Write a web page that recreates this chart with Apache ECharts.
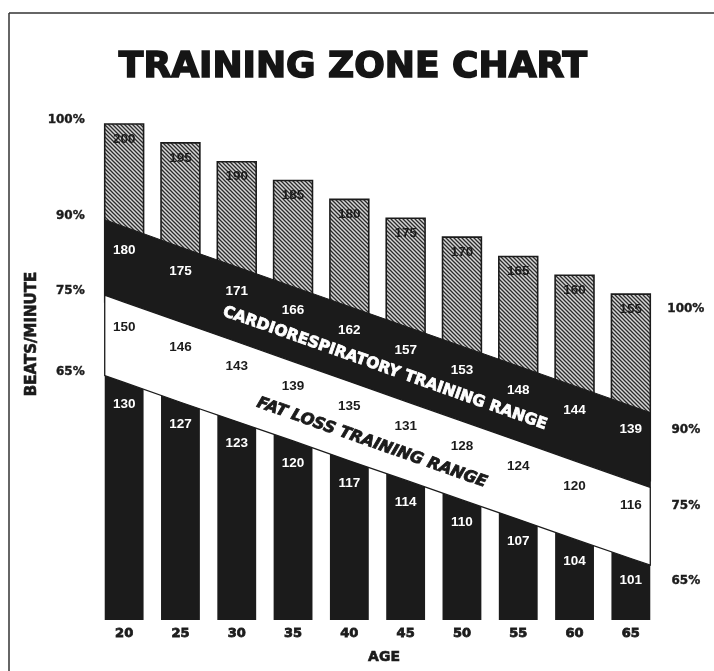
<!DOCTYPE html>
<html><head><meta charset="utf-8">
<script src="https://cdn.jsdelivr.net/npm/echarts@6/dist/echarts.min.js"></script>
<style>html,body{margin:0;padding:0;background:#fff}#c{width:714px;height:671px}</style>
</head><body><div id="c"></div>
<script>
// ---- data ----
const ages  = ['20','25','30','35','40','45','50','55','60','65'];
const maxHR = [200,195,190,185,180,175,170,165,160,155];   // 100%
const hr90  = [180,175,171,166,162,157,153,148,144,139];   // 90%
const hr75  = [150,146,143,139,135,131,128,124,120,116];   // 75%
const hr65  = [130,127,123,120,117,114,110,107,104,101];   // 65%
// heights of the zone edges on the chart's own (unlabelled) drawing scale: 0 = baseline, 100 = tallest bar top
const top100 = [100,96.2,92.4,88.6,84.8,81.0,77.2,73.3,69.5,65.7];
const edge90 = [79.3,75.2,71.2,67.2,63.2,59.2,55.2,51.2,47.2,43.2];
const edge75 = [64.1,60.1,56.1,52.1,48.1,44.1,40.1,36.1,32.1,28.1];
const edge65 = [47.9,43.9,40.0,36.1,32.1,28.2,24.2,20.3,16.3,12.4];
const pctLabels = ['100%','90%','75%','65%'];
const titleText = 'TRAINING ZONE CHART';
const yTitle = 'BEATS/MINUTE';
const xTitle = 'AGE';
const band1Text = 'CARDIORESPIRATORY TRAINING RANGE';
const band2Text = 'FAT LOSS TRAINING RANGE';

// ---- styling ----
const BLACK = '#1b1b1b';
const HEAVY = 'DejaVu Sans';
const PLAIN = 'Liberation Sans, Arial, sans-serif';
const BAR_FRAC = 0.69;

function hatchCanvas(){
  const c = document.createElement('canvas'); c.width = 4; c.height = 4;
  const g = c.getContext('2d');
  g.fillStyle = '#d6d6d6'; g.fillRect(0,0,4,4);
  g.strokeStyle = '#2b2b2b'; g.lineWidth = 1.3;
  g.beginPath();
  g.moveTo(-1,-1); g.lineTo(5,5);
  g.moveTo(-1,3); g.lineTo(1,5);
  g.moveTo(3,-1); g.lineTo(5,1);
  g.stroke();
  return c;
}
const pattern = {image: hatchCanvas(), repeat: 'repeat'};

const items = ages.map((a,i)=>[i, top100[i], edge90[i], edge75[i], edge65[i], maxHR[i], hr90[i], hr75[i], hr65[i]]);

function geom(api){ const w = api.size([1,0])[0]; return {w, bw: w*BAR_FRAC}; }
function edgeVal(arr, side){
  const n = arr.length, h = BAR_FRAC/2;
  if (side < 0) return arr[0] - (arr[1]-arr[0])*h;
  return arr[n-1] + (arr[n-1]-arr[n-2])*h;
}
function valAt(arr, t){
  const k = Math.min(Math.floor(t), arr.length-2), f = t-k;
  return arr[k] + (arr[k+1]-arr[k])*f;
}

function renderBars(params, api){
  const i = api.value(0);
  const {bw} = geom(api);
  const c = api.coord([i, 0]);
  const yTop = api.coord([i, api.value(1)])[1];
  const y75 = api.coord([i, api.value(3)])[1];
  return {type:'group', children:[
    {type:'rect', shape:{x:c[0]-bw/2, y:y75, width:bw, height:c[1]-y75}, style:{fill:BLACK}},
    {type:'rect', shape:{x:c[0]-bw/2, y:yTop, width:bw, height:y75-yTop}, style:{fill:pattern, stroke:BLACK, lineWidth:1.6}}
  ]};
}

function bandPoints(api, upper, lower){
  const {bw} = geom(api);
  const n = upper.length;
  const pts = [];
  const x0 = api.coord([0,0])[0]-bw/2, xN = api.coord([n-1,0])[0]+bw/2;
  pts.push([x0, api.coord([0, edgeVal(upper,-1)])[1]]);
  for (let i=0;i<n;i++) pts.push(api.coord([i, upper[i]]));
  pts.push([xN, api.coord([n-1, edgeVal(upper,1)])[1]]);
  pts.push([xN, api.coord([n-1, edgeVal(lower,1)])[1]]);
  for (let i=n-1;i>=0;i--) pts.push(api.coord([i, lower[i]]));
  pts.push([x0, api.coord([0, edgeVal(lower,-1)])[1]]);
  return pts;
}
function bandText(api, upper, lower, t, dy, text, fill, italic, size){
  const {w} = geom(api);
  const n = upper.length;
  const c0 = api.coord([0, upper[0]]), c1 = api.coord([n-1, upper[n-1]]);
  const ang = Math.atan2(c1[1]-c0[1], c1[0]-c0[0]);
  const x = api.coord([0,0])[0] + t*w;
  const y = (api.coord([0, valAt(upper,t)])[1] + api.coord([0, valAt(lower,t)])[1])/2 + dy;
  return {type:'text', x, y, rotation:-ang, style:{
    text, fill, fontSize:size, fontWeight:'bold', fontFamily:HEAVY, fontStyle: italic?'italic':'normal',
    align:'center', verticalAlign:'middle', stroke: fill, lineWidth: 0.8}};
}

function renderBands(params, api){
  if (params.dataIndex !== 0) return null;
  return {type:'group', children:[
    {type:'polygon', shape:{points: bandPoints(api, edge90, edge75)}, style:{fill:BLACK, stroke:BLACK, lineWidth:1}},
    {type:'polygon', shape:{points: bandPoints(api, edge75, edge65)}, style:{fill:'#fff', stroke:BLACK, lineWidth:1.3}},
    bandText(api, edge90, edge75, 4.63, 12, band1Text, '#fff', false, 15.5),
    bandText(api, edge75, edge65, 4.4, 14, band2Text, BLACK, true, 16)
  ]};
}

function renderLabels(params, api){
  const i = api.value(0);
  const x = api.coord([i,0])[0];
  const {bw} = geom(api);
  const yv = k => api.coord([i, api.value(k)])[1];
  const mk = (txt, yy, fill) => ({type:'text', x, y:yy, style:{text:String(txt), fill, fontSize:13.5, fontWeight:'bold',
    fontFamily:PLAIN, align:'center', verticalAlign:'middle'}});
  const ys = [yv(1)+15, yv(2)+24, yv(3)+25, yv(4)+22];
  const children = [
    mk(api.value(5), ys[0], BLACK),
    mk(api.value(6), ys[1], '#fff'),
    mk(api.value(7), ys[2], BLACK),
    mk(api.value(8), ys[3], '#fff')
  ];
  const pctStyle = (txt, align) => ({text:txt, fill:BLACK, fontSize:12, fontWeight:'bold', fontFamily:HEAVY,
    align, verticalAlign:'middle', stroke:BLACK, lineWidth:0.4});
  if (params.dataIndex === 0){
    const vals = [top100[0], edgeVal(edge90,-1), edgeVal(edge75,-1), edgeVal(edge65,-1)];
    vals.forEach((v,k)=>children.push({type:'text', x: x-bw/2-20, y: api.coord([0,v])[1]-4, style: pctStyle(pctLabels[k],'right')}));
  }
  if (params.dataIndex === ages.length-1){
    ys.forEach((yy,k)=>children.push({type:'text', x: x+55, y: yy, style: pctStyle(pctLabels[k],'center')}));
  }
  return {type:'group', children};
}

const chart = echarts.init(document.getElementById('c'));
chart.setOption({
  backgroundColor:'#fff',
  animation:false,
  title:{text:titleText, left:348, textAlign:'center', top:45,
    textStyle:{fontFamily:HEAVY, fontWeight:'bold', fontSize:36, color:'#151515', textBorderColor:'#151515', textBorderWidth:1.6}},
  grid:{left:96, right:55, top:124, bottom:51},
  xAxis:{type:'category', data:ages, axisLine:{show:false}, axisTick:{show:false}, splitLine:{show:false},
    axisLabel:{margin:7, color:BLACK, fontFamily:HEAVY, fontWeight:'bold', fontSize:13, textBorderColor:BLACK, textBorderWidth:0.8}},
  yAxis:{type:'value', min:0, max:100, show:false},
  graphic:[
    {type:'line', shape:{x1:9,y1:13,x2:714,y2:13}, style:{stroke:'#333', lineWidth:1.5}, silent:true},
    {type:'line', shape:{x1:9,y1:13,x2:9,y2:671}, style:{stroke:'#333', lineWidth:1.5}, silent:true},
    {type:'text', x:32, y:334, rotation:Math.PI/2, style:{text:yTitle, align:'center', verticalAlign:'middle',
      fontSize:15, fontWeight:'bold', fontFamily:HEAVY, fill:BLACK, stroke:BLACK, lineWidth:0.6}},
    {type:'text', x:384, y:657, style:{text:xTitle, align:'center', verticalAlign:'middle',
      fontSize:14, fontWeight:'bold', fontFamily:HEAVY, fill:BLACK, stroke:BLACK, lineWidth:0.6}}
  ],
  series:[
    {type:'custom', name:'zones', z:2, renderItem:renderBars, encode:{x:0,y:1}, data:items},
    {type:'custom', name:'bands', z:3, renderItem:renderBands, encode:{x:0,y:1}, data:items},
    {type:'custom', name:'labels', z:4, renderItem:renderLabels, encode:{x:0,y:1}, data:items}
  ]
});
</script></body></html>
